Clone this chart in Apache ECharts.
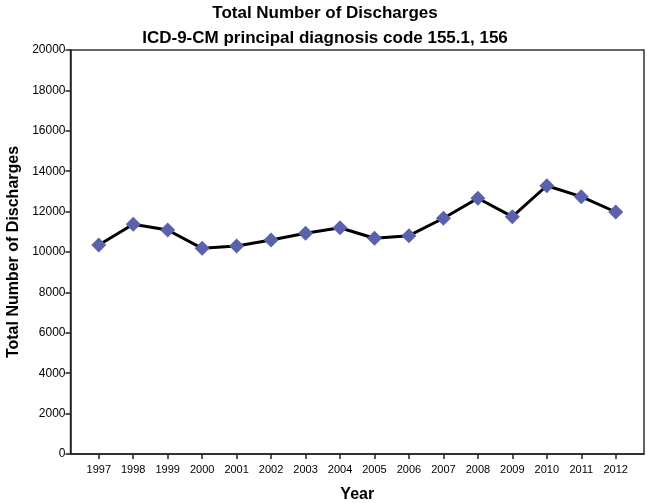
<!DOCTYPE html>
<html>
<head>
<meta charset="utf-8">
<script src="https://cdn.jsdelivr.net/npm/echarts@6/dist/echarts.min.js"></script>
<style>html,body{margin:0;padding:0;background:#fff;}#c{width:650px;height:503px;}</style>
</head>
<body>
<div id="c"></div>
<script>
var years = [1997,1998,1999,2000,2001,2002,2003,2004,2005,2006,2007,2008,2009,2010,2011,2012];
var discharges = [10350,11370,11090,10180,10300,10590,10930,11200,10680,10810,11670,12660,11750,13280,12740,11980];
var yTicks = [0,2000,4000,6000,8000,10000,12000,14000,16000,18000,20000];
var titleText = 'Total Number of Discharges';
var subtitleText = 'ICD-9-CM principal diagnosis code 155.1, 156';
var xName = 'Year';
var yName = 'Total Number of Discharges';

var chart = echarts.init(document.getElementById('c'), null, {renderer: 'canvas'});
var font = 'Liberation Sans, Arial, sans-serif';
chart.setOption({
  animation: false,
  backgroundColor: '#ffffff',
  title: [
    {text: titleText, left: 'center', top: 0, textStyle: {fontFamily: font, fontSize: 17, fontWeight: 'bold', color: '#000'}},
    {text: subtitleText, left: 'center', top: 25, textStyle: {fontFamily: font, fontSize: 17, fontWeight: 'bold', color: '#000'}}
  ],
  grid: {left: 70.5, right: 6, top: 50, bottom: 49, show: true, borderColor: '#333', borderWidth: 1.5, containLabel: false, outerBoundsMode: 'none'},
  xAxis: {
    type: 'value',
    min: 1996.18, max: 2012.82,
    name: xName, nameLocation: 'middle', nameGap: 33,
    nameTextStyle: {fontFamily: font, fontSize: 16, fontWeight: 'bold', color: '#000'},
    axisLine: {show: true, lineStyle: {color: '#222', width: 1.5}},
    axisTick: {show: true, length: 5, lineStyle: {color: '#222', width: 1.5}, customValues: years},
    axisLabel: {fontFamily: font, fontSize: 11, color: '#000', margin: 10, customValues: years, formatter: function(v){return String(Math.round(v));}},
    splitLine: {show: false}
  },
  yAxis: {
    type: 'value', min: 0, max: 20000, interval: 2000,
    name: yName, nameLocation: 'middle', nameGap: 47, nameRotate: 90,
    nameTextStyle: {fontFamily: font, fontSize: 16, fontWeight: 'bold', color: '#000'},
    axisLine: {show: true, lineStyle: {color: '#222', width: 1.5}},
    axisTick: {show: true, length: 5, lineStyle: {color: '#222', width: 1.5}},
    axisLabel: {fontFamily: font, fontSize: 12, color: '#000', margin: 5, formatter: function(v){return String(v);}},
    splitLine: {show: false}
  },
  series: [{
    type: 'line',
    data: years.map(function(y, i){ return [y, discharges[i]]; }),
    lineStyle: {color: '#000', width: 3},
    symbol: 'diamond', symbolSize: 15,
    itemStyle: {color: '#5a62ad', borderWidth: 0},
    z: 3
  }]
});
</script>
</body>
</html>
